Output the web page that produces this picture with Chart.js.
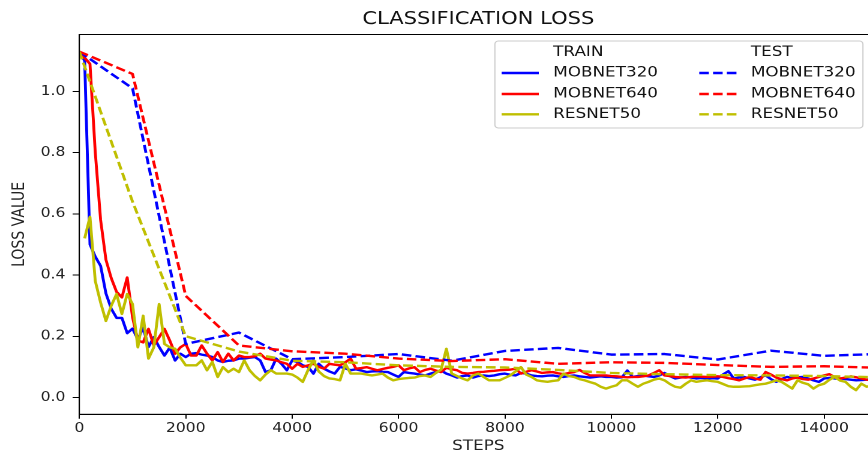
<!DOCTYPE html>
<html>
<head>
<meta charset="utf-8">
<script src="https://cdn.jsdelivr.net/npm/chart.js@4"></script>
<style>
  html, body { margin: 0; padding: 0; background: #fff; overflow: hidden; width: 868px; height: 455px; }
  #wrap { width: 740px; height: 455px; transform: scaleX(1.2); transform-origin: 0 0; }
</style>
</head>
<body>
<div id="wrap"><canvas id="c" width="740" height="455"></canvas></div>
<script>
// Classification loss per model: training logged every 100 steps, evaluation every 1000 steps.
const models = ['MOBNET320', 'MOBNET640', 'RESNET50'];
const groups = ['TRAIN', 'TEST'];

const mobnet320Train = [
  1.13, 1.10, 0.50, 0.46, 0.43, 0.34, 0.29, 0.26, 0.26, 0.21,
  0.225, 0.19, 0.228, 0.165, 0.197, 0.165, 0.137, 0.163, 0.121, 0.143,
  0.132, 0.143, 0.145, 0.14, 0.137, 0.132, 0.121, 0.116, 0.12, 0.121,
  0.127, 0.127, 0.13, 0.132, 0.121, 0.083, 0.089, 0.127, 0.11, 0.089,
  0.121, 0.116, 0.105, 0.1, 0.078, 0.11, 0.094, 0.085, 0.078, 0.1,
  0.095, 0.089, 0.092, 0.088, 0.083, 0.085, 0.086, 0.084, 0.083, 0.075,
  0.067, 0.083, 0.08, 0.078, 0.075, 0.072, 0.078, 0.083, 0.088, 0.078,
  0.072, 0.065, 0.07, 0.072, 0.065, 0.07, 0.072, 0.07, 0.072, 0.076,
  0.078, 0.074, 0.072, 0.08, 0.078, 0.072, 0.07, 0.069, 0.071, 0.072,
  0.069, 0.067, 0.07, 0.072, 0.069, 0.067, 0.065, 0.067, 0.069, 0.067,
  0.067, 0.065, 0.066, 0.088, 0.067, 0.07, 0.072, 0.069, 0.067, 0.072,
  0.08, 0.07, 0.062, 0.065, 0.067, 0.065, 0.062, 0.064, 0.062, 0.063,
  0.062, 0.075, 0.086, 0.062, 0.065, 0.067, 0.062, 0.058, 0.066, 0.072,
  0.06, 0.051, 0.06, 0.067, 0.065, 0.066, 0.067, 0.062, 0.056, 0.051,
  0.062, 0.064, 0.062, 0.062, 0.06, 0.058, 0.056, 0.057, 0.058, 0.06,
  0.058
];

const mobnet640Train = [
  1.13, 1.11, 1.09, 0.80, 0.58, 0.45, 0.39, 0.345, 0.327, 0.392,
  0.262, 0.186, 0.18, 0.224, 0.17, 0.197, 0.224, 0.186, 0.143, 0.164,
  0.175, 0.137, 0.137, 0.17, 0.143, 0.121, 0.148, 0.116, 0.143, 0.121,
  0.137, 0.132, 0.132, 0.135, 0.143, 0.127, 0.124, 0.121, 0.115, 0.11,
  0.094, 0.11, 0.1, 0.105, 0.11, 0.1, 0.094, 0.11, 0.107, 0.105,
  0.115, 0.127, 0.094, 0.096, 0.099, 0.094, 0.089, 0.093, 0.097, 0.1,
  0.105, 0.089, 0.095, 0.099, 0.083, 0.09, 0.094, 0.088, 0.083, 0.097,
  0.092, 0.089, 0.08, 0.078, 0.08, 0.083, 0.084, 0.086, 0.087, 0.089,
  0.09, 0.091, 0.094, 0.078, 0.084, 0.089, 0.085, 0.08, 0.082, 0.083,
  0.079, 0.076, 0.08, 0.083, 0.09, 0.08, 0.072, 0.072, 0.072, 0.072,
  0.07, 0.069, 0.067, 0.066, 0.067, 0.067, 0.069, 0.072, 0.08, 0.089,
  0.072, 0.07, 0.067, 0.066, 0.065, 0.067, 0.069, 0.068, 0.067, 0.068,
  0.069, 0.067, 0.063, 0.06, 0.056, 0.062, 0.067, 0.062, 0.058, 0.083,
  0.075, 0.065, 0.06, 0.056, 0.062, 0.065, 0.06, 0.058, 0.062, 0.067,
  0.072, 0.076, 0.066, 0.062, 0.065, 0.069, 0.066, 0.062, 0.058, 0.056,
  0.055
];

const resnet50Train = [
  null, 0.52, 0.59, 0.38, 0.31, 0.25, 0.30, 0.338, 0.273, 0.338,
  0.305, 0.164, 0.267, 0.127, 0.164, 0.305, 0.175, 0.164, 0.159, 0.13,
  0.105, 0.105, 0.105, 0.121, 0.089, 0.116, 0.067, 0.099, 0.083, 0.094,
  0.083, 0.121, 0.089, 0.07, 0.056, 0.075, 0.089, 0.078, 0.078, 0.078,
  0.075, 0.065, 0.051, 0.09, 0.121, 0.085, 0.07, 0.062, 0.06, 0.056,
  0.11, 0.078, 0.078, 0.078, 0.075, 0.072, 0.075, 0.078, 0.065, 0.056,
  0.06, 0.062, 0.064, 0.065, 0.07, 0.072, 0.067, 0.08, 0.091, 0.159,
  0.078, 0.07, 0.062, 0.056, 0.072, 0.078, 0.067, 0.056, 0.056, 0.056,
  0.064, 0.072, 0.085, 0.099, 0.075, 0.067, 0.056, 0.053, 0.051, 0.054,
  0.056, 0.078, 0.07, 0.067, 0.06, 0.056, 0.05, 0.045, 0.035, 0.029,
  0.035, 0.04, 0.056, 0.056, 0.045, 0.035, 0.045, 0.051, 0.058, 0.062,
  0.056, 0.044, 0.035, 0.032, 0.045, 0.056, 0.051, 0.054, 0.056, 0.053,
  0.051, 0.044, 0.037, 0.035, 0.035, 0.036, 0.037, 0.04, 0.043, 0.045,
  0.05, 0.056, 0.051, 0.04, 0.029, 0.056, 0.048, 0.043, 0.029, 0.04,
  0.045, 0.058, 0.067, 0.055, 0.051, 0.035, 0.024, 0.045, 0.035, 0.04,
  0.03
];

const testSteps = [0, 1000, 2000, 3000, 4000, 5000, 6000, 7000, 8000, 9000, 10000, 11000, 12000, 13000, 14000, 15000];
const mobnet320Test = [1.13, 1.01, 0.175, 0.212, 0.125, 0.132, 0.142, 0.12, 0.152, 0.162, 0.14, 0.142, 0.124, 0.153, 0.136, 0.142];
const mobnet640Test = [1.13, 1.057, 0.332, 0.17, 0.151, 0.143, 0.127, 0.119, 0.125, 0.11, 0.115, 0.113, 0.106, 0.1, 0.102, 0.097];
const resnet50Test  = [1.13, 0.64, 0.2, 0.15, 0.12, 0.115, 0.105, 0.1, 0.098, 0.09, 0.08, 0.076, 0.073, 0.072, 0.07, 0.066];

const trainInterval = 100;
const trainSteps = mobnet320Train.map((_, i) => i * trainInterval);

const xTickValues = [0, 2000, 4000, 6000, 8000, 10000, 12000, 14000];
const yTickValues = [0.0, 0.2, 0.4, 0.6, 0.8, 1.0];

const colors = ['#0000ff', '#ff0000', '#bfbf00'];
const FONT = "'DejaVu Sans', 'Liberation Sans', sans-serif";
const DASH = [8, 3.5];
const LINE_W = 2.4;

const toPoints = (xs, ys) => ys.map((y, i) => ({ x: xs[i], y }));

const trainSeries = [mobnet320Train, mobnet640Train, resnet50Train];
const testSeries = [mobnet320Test, mobnet640Test, resnet50Test];

const datasets = [];
trainSeries.forEach((vals, i) => datasets.push({
  label: models[i], group: 0,
  data: toPoints(trainSteps, vals),
  borderColor: colors[i], borderWidth: LINE_W, borderDash: [],
}));
testSeries.forEach((vals, i) => datasets.push({
  label: models[i], group: 1,
  data: toPoints(testSteps, vals),
  borderColor: colors[i], borderWidth: LINE_W, borderDash: DASH,
}));
datasets.forEach((d, i) => {
  Object.assign(d, {
    pointRadius: 0, tension: 0, fill: false, spanGaps: false,
    borderJoinStyle: 'round', borderCapStyle: 'butt',
    order: datasets.length - i
  });
});

// Frame on all four sides of the plot area.
const frame = {
  id: 'frame',
  afterDatasetsDraw(chart) {
    const { ctx, chartArea: a } = chart;
    ctx.save();
    ctx.strokeStyle = '#000';
    ctx.lineWidth = 1;
    ctx.strokeRect(a.left, a.top, a.right - a.left, a.bottom - a.top);
    ctx.restore();
  }
};

// Two-column legend (TRAIN / TEST) with a header row.
const splitLegend = {
  id: 'splitLegend',
  afterDatasetsDraw(chart) {
    const { ctx, chartArea: a } = chart;
    const w = 306.7, h = 87;
    const left = a.right - 12 - w, top = a.top + 6.5;
    ctx.save();
    ctx.beginPath();
    ctx.roundRect(left, top, w, h, 3);
    ctx.fillStyle = 'rgba(255,255,255,0.85)';
    ctx.fill();
    ctx.strokeStyle = '#cccccc';
    ctx.lineWidth = 1;
    ctx.stroke();

    const colX = [left + 5.6, left + 170.3];
    const handleLen = 31;
    const textGap = 12;
    const rowY = [top + 11.3, top + 32, top + 53, top + 73.3];
    ctx.font = '14px ' + FONT;
    ctx.textBaseline = 'middle';
    ctx.textAlign = 'left';
    ctx.fillStyle = '#111';
    groups.forEach((g, c) => ctx.fillText(g, colX[c] + handleLen + textGap, rowY[0]));
    const counts = [0, 0];
    chart.data.datasets.forEach(ds => {
      const c = ds.group;
      const r = 1 + counts[c]++;
      const y = rowY[r];
      ctx.beginPath();
      ctx.setLineDash(ds.borderDash || []);
      ctx.strokeStyle = ds.borderColor;
      ctx.lineWidth = ds.borderWidth;
      ctx.moveTo(colX[c], y);
      ctx.lineTo(colX[c] + handleLen, y);
      ctx.stroke();
      ctx.setLineDash([]);
      ctx.fillStyle = '#111';
      ctx.fillText(ds.label, colX[c] + handleLen + textGap, y);
    });
    ctx.restore();
  }
};

new Chart(document.getElementById('c'), {
  type: 'line',
  data: { datasets },
  plugins: [frame, splitLegend],
  options: {
    responsive: false,
    animation: false,
    devicePixelRatio: 2,
    layout: { padding: { top: 0, left: 0, right: 8.9, bottom: 0 } },
    plugins: {
      legend: { display: false },
      tooltip: { enabled: false },
      title: {
        display: true, text: 'CLASSIFICATION LOSS', fullSize: false,
        color: '#111', font: { family: FONT, size: 17.5, weight: 'normal', lineHeight: 1.2 },
        padding: { top: 9.2, bottom: 4.3 }
      }
    },
    scales: {
      x: {
        type: 'linear', min: 0, max: 15000,
        afterFit(s) { s.height = 40.7; },
        afterBuildTicks(s) { s.ticks = xTickValues.map(v => ({ value: v })); },
        grid: { display: true, drawOnChartArea: false, drawTicks: true, tickLength: 4.5, color: '#000', lineWidth: 1 },
        border: { display: true, color: '#000', width: 1 },
        ticks: {
          color: '#222', padding: 2, maxRotation: 0, autoSkip: false,
          font: { family: FONT, size: 13 },
          callback: v => String(v)
        },
        title: {
          display: true, text: 'STEPS', color: '#222',
          font: { family: FONT, size: 14 }, padding: { top: 0, bottom: 0 }
        }
      },
      y: {
        type: 'linear', min: -0.055, max: 1.186,
        afterFit(s) { s.width = 66.1; },
        afterBuildTicks(s) { s.ticks = yTickValues.map(v => ({ value: v })); },
        grid: { display: true, drawOnChartArea: false, drawTicks: true, tickLength: 5.6, color: '#000', lineWidth: 1 },
        border: { display: true, color: '#000', width: 1 },
        ticks: {
          color: '#222', padding: 6, autoSkip: false,
          font: { family: FONT, size: 13 },
          callback: v => Number(v).toFixed(1)
        },
        title: {
          display: true, text: 'LOSS VALUE', color: '#222',
          font: { family: FONT, size: 14 }, padding: { top: 8, bottom: 0 }
        }
      }
    }
  }
});
</script>
</body>
</html>
